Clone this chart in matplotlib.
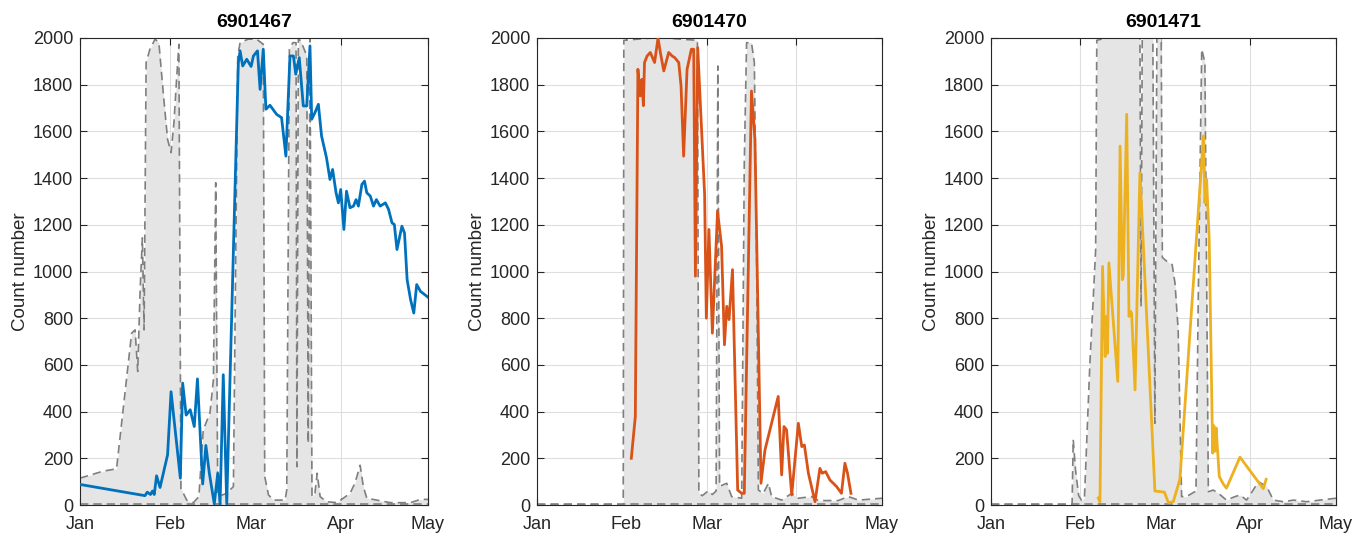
import numpy as np
import matplotlib
matplotlib.use('Agg')
import matplotlib.pyplot as plt

# Float IDs (panel titles)
float_ids = ['6901467', '6901470', '6901471']
month_labels = ['Jan', 'Feb', 'Mar', 'Apr', 'May']
month_days = [0, 31, 59, 90, 120]

# Gray envelope (upper edge), (day of year, count)
env_6901467 = [(0, 115), (4, 130), (8, 145), (12.6, 155), (17.8, 736), (19, 750), (19.9, 572),
               (20.7, 908), (21.5, 1144), (22.1, 750), (22.8, 1895), (24.1, 1952), (25.9, 1995),
               (27.2, 1980), (28.7, 1766), (30.2, 1566), (31.4, 1509), (32.4, 1638), (33.3, 1823),
               (34.1, 1973), (34.8, 71), (36.8, 21), (39.1, 10), (41.0, 36), (42.5, 322), (44.8, 393),
               (46.0, 536), (46.8, 1380), (47.5, 36), (50.6, 50), (52.9, 79), (54.4, 1923),
               (55.2, 1980), (58, 1995), (60.9, 1995), (63.2, 1973), (63.7, 122), (65, 43),
               (66.7, 21), (70.7, 21), (71.3, 64), (72.2, 1952), (73.4, 1980), (74.5, 1980),
               (74.8, 164), (75.3, 2000), (76.4, 1980), (78.2, 1923), (78.7, 265), (79.3, 2000),
               (80, 36), (81, 50), (81.8, 136), (82.8, 36), (85, 14), (88.5, 10), (90.8, 29),
               (93.1, 50), (94.8, 93), (96.6, 170), (97.7, 79), (98.9, 29), (102.3, 21), (107, 10),
               (114, 10), (117.4, 24), (120, 24)]
env_6901470 = [(0, 0), (30.0, 0), (30.2, 1990), (35, 1995), (40, 2000), (45, 2000), (50, 1995),
               (55.8, 1990), (56.3, 50), (57.5, 40), (59.5, 60), (61, 45), (62.3, 60), (62.9, 1880),
               (63.5, 80), (66, 93), (67.7, 36), (71.2, 29), (72.1, 1466), (72.9, 1980), (74.6, 1980),
               (75.6, 1895), (76.4, 1037), (77, 64), (78.7, 50), (80.5, 93), (81.6, 36), (85.1, 21),
               (88.6, 50), (90.9, 29), (95.5, 36), (97.9, 19), (104.8, 19), (108.3, 36),
               (111.8, 21), (120, 29)]
env_6901471 = [(0, 0), (28.2, 0), (28.6, 280), (29.4, 150), (30.5, 40), (31.5, 20), (32.5, 30),
               (34.4, 608), (35.6, 894), (36.4, 1094), (36.8, 1990), (40, 2000), (45, 2000),
               (51.8, 2000), (52.2, 850), (52.6, 2000), (56.3, 2000), (57, 350), (57.7, 2000),
               (59.2, 2000), (59.6, 1060), (61, 1045), (63, 1030), (64, 950), (65.1, 750),
               (66.3, 36), (68, 36), (71.3, 60), (72.1, 894), (73.3, 1952), (74.4, 1895),
               (75.6, 57), (77.3, 64), (79.1, 50), (81.9, 21), (84.9, 36), (86.6, 43), (88.9, 21),
               (91.2, 64), (93, 100), (95.9, 79), (98.2, 21), (101.7, 14), (105.2, 21),
               (109.8, 14), (114.4, 21), (120, 29)]

# Float count series, (day of year, count)
cnt_6901467 = [(0, 88), (22.4, 40), (23.2, 55), (24.3, 45), (25, 60), (25.6, 45), (26.4, 125),
               (27.6, 75), (30.2, 215), (31.4, 485), (34.6, 115), (35.4, 522), (36.6, 385),
               (38, 408), (39.4, 336), (40.5, 540), (42.3, 90), (43.4, 255), (44.6, 136), (46.3, 5),
               (47.5, 136), (48.3, 5), (49.4, 558), (50.6, 5), (54.6, 1895), (55.2, 1945),
               (56.1, 1880), (57.5, 1909), (59, 1878), (59.8, 1923), (61.2, 1945), (62.1, 1780),
               (63.2, 1952), (64.1, 1695), (65.5, 1712), (67.8, 1673), (69.5, 1659), (71, 1494),
               (72.4, 1923), (73.6, 1923), (74.4, 1845), (75.6, 1916), (77, 1709), (78.2, 1709),
               (79.3, 1966), (79.9, 1652), (81, 1680), (82.2, 1716), (83.3, 1580), (85, 1487),
               (86.2, 1394), (87.1, 1437), (88.3, 1337), (89.1, 1294), (89.9, 1351), (91, 1180),
               (91.9, 1344), (93.1, 1273), (94.3, 1280), (95.2, 1308), (96, 1280), (97.2, 1373),
               (98.1, 1387), (98.9, 1337), (100.1, 1323), (101.2, 1280), (102.2, 1308),
               (103.5, 1280), (105.3, 1294), (106.4, 1266), (107.6, 1208), (108.4, 1201),
               (109.3, 1094), (111, 1194), (111.9, 1165), (112.8, 965), (114, 879), (115.1, 822),
               (116.1, 944), (117.4, 915), (120, 890)]
cnt_6901470 = [(32.8, 200), (34.2, 379), (35.1, 1866), (35.9, 1752), (36.5, 1823), (37, 1710),
               (37.4, 1895), (38.3, 1923), (39.4, 1938), (40.9, 1895), (42.1, 2000), (42.9, 1938),
               (44.1, 1859), (45.8, 1938), (47, 1923), (47.9, 1916), (49.3, 1895), (50.1, 1795),
               (51, 1494), (52.2, 1866), (53.7, 1952), (54.5, 1952), (55.1, 980), (55.9, 1959),
               (58.3, 1330), (58.9, 800), (59.8, 1180), (61, 736), (62.8, 1258), (64.2, 1108),
               (65.2, 686), (66, 851), (66.8, 794), (68, 1008), (69.8, 64), (71.2, 50), (72.1, 50),
               (74.6, 1773), (75.8, 1566), (77.9, 93), (79.3, 236), (83.9, 465), (85.1, 129),
               (85.9, 336), (86.8, 322), (88.6, 43), (90.9, 350), (92.1, 250), (93, 257),
               (94.4, 136), (96.7, 14), (98.4, 157), (99.2, 136), (100.4, 143), (101.9, 107),
               (104.2, 79), (105.9, 50), (107.1, 179), (108, 136), (109.2, 50)]
cnt_6901471 = [(37.3, 30), (37.9, 14), (38.8, 1022), (39.7, 636), (40.2, 808), (40.5, 650),
               (41, 1037), (44.1, 529), (44.9, 1537), (45.7, 965), (46, 980), (47.2, 1673),
               (48, 808), (48.5, 830), (48.9, 822), (50.1, 493), (51.8, 1423), (57, 60), (60.3, 55),
               (61.7, 10), (63.4, 14), (65.7, 110), (73.9, 1580), (74.4, 1294), (75, 1394),
               (75.9, 1136), (77.1, 222), (77.5, 340), (77.9, 230), (78.3, 330), (79.4, 122),
               (80.8, 90), (81.9, 72), (86.6, 205), (94.7, 70), (95.7, 110)]

envelopes = [env_6901467, env_6901470, env_6901471]
counts = [cnt_6901467, cnt_6901470, cnt_6901471]
colors = ['#0072BD', '#D95319', '#EDB120']

plt.rcParams['font.family'] = ['Liberation Sans', 'DejaVu Sans']

fig = plt.figure(figsize=(13.63, 5.37), dpi=100)
lefts = [80, 537, 991]
widths = [348, 345, 345]

for i in range(3):
    ax = fig.add_axes([lefts[i] / 1363, 32 / 537, widths[i] / 1363, 467 / 537])
    ed, ev = np.array(envelopes[i], dtype=float).T
    lo = np.zeros_like(ev)
    ax.fill_between(ed, lo, ev, color='#e5e5e5', lw=0, zorder=1)
    ax.plot(ed, ev, color='#7f7f7f', lw=1.2, dashes=(5, 3), zorder=2)
    ax.plot(ed, lo + 3, color='#7f7f7f', lw=1.2, dashes=(5, 3), zorder=2)
    cd, cv = np.array(counts[i], dtype=float).T
    ax.plot(cd, cv, color=colors[i], lw=2, zorder=3)

    ax.set_xlim(0, 120)
    ax.set_ylim(0, 2000)
    ax.set_xticks(month_days)
    ax.set_xticklabels(month_labels)
    ax.set_yticks(np.arange(0, 2001, 200))
    ax.grid(True, color='#dedede', lw=0.8, zorder=0)
    ax.set_axisbelow(True)
    ax.tick_params(direction='in', top=True, right=True, length=5, width=0.8,
                   colors='#262626', labelsize=13)
    ax.tick_params(axis='x', pad=8)
    ax.tick_params(axis='y', pad=5)
    for s in ax.spines.values():
        s.set_color('#262626')
        s.set_linewidth(0.8)
    ax.set_title(float_ids[i], fontsize=14, fontweight='bold', pad=8)
    ax.set_ylabel('Count number', fontsize=13.5, color='#262626', labelpad=3)

plt.savefig('out.png', dpi=100)
plt.close()
